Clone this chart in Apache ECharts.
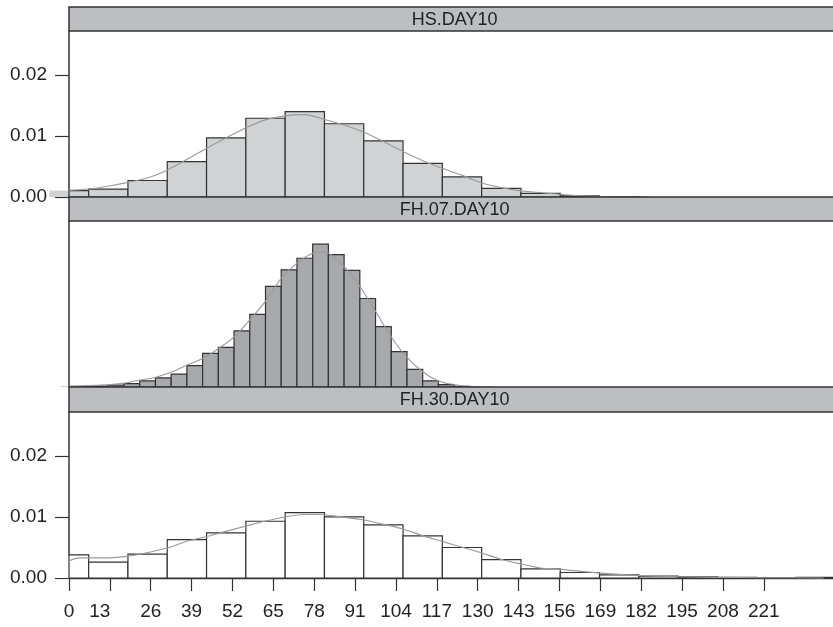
<!DOCTYPE html>
<html>
<head>
<meta charset="utf-8">
<script src="https://cdn.jsdelivr.net/npm/echarts@6/dist/echarts.min.js"></script>
<style>
  html, body { margin: 0; padding: 0; background: #fff; }
  #chart { width: 833px; height: 627px; }
</style>
</head>
<body>
<div id="chart"></div>
<script>
// panel titles
const panelNames = ['HS.DAY10', 'FH.07.DAY10', 'FH.30.DAY10']

// histogram bins (centers) and densities
const hsBinWidth = 12.5
const hsBins = [0, 12.5, 25, 37.5, 50, 62.5, 75, 87.5, 100, 112.5, 125, 137.5, 150, 162.5, 175]
const hsDens = [0.00105, 0.0013, 0.0027, 0.0058, 0.0097, 0.0129, 0.0140, 0.0120, 0.0092, 0.0055, 0.0033, 0.0014, 0.0006, 0.0002, 0.00005]

const fh07BinWidth = 5
const fh07Bins = [0, 5, 10, 15, 20, 25, 30, 35, 40, 45, 50, 55, 60, 65, 70, 75, 80, 85, 90, 95, 100, 105, 110, 115, 120, 125]
const fh07Dens = [0.0001, 0.0001, 0.00016, 0.0003, 0.00055, 0.0010, 0.0015, 0.0021, 0.0035, 0.0055, 0.0065, 0.0092, 0.0119, 0.0165, 0.0192, 0.0211, 0.0234, 0.0217, 0.0191, 0.0145, 0.0099, 0.0058, 0.0029, 0.0010, 0.0004, 0.0001]

const fh30BinWidth = 12.5
const fh30Bins = [0, 12.5, 25, 37.5, 50, 62.5, 75, 87.5, 100, 112.5, 125, 137.5, 150, 162.5, 175, 187.5, 200, 212.5, 225, 237.5]
const fh30Dens = [0.0038, 0.0026, 0.0039, 0.0063, 0.0074, 0.0093, 0.0107, 0.0100, 0.0087, 0.0069, 0.0050, 0.0030, 0.0015, 0.0009, 0.0005, 0.0003, 0.0002, 0.0001, 0.00005, 0.0001]

// density curves
const hsCurveX = [0, 6.25, 12.8, 18.7, 25.4, 31.2, 38, 43.8, 49.6, 56.2, 62.2, 68.7, 74.8, 81.3, 87.5, 93.8, 100, 106.4, 112.7, 118.7, 125.3, 131.3, 137.9, 143.8, 150.5, 162.5, 175, 185]
const hsCurveY = [0.0011, 0.0013, 0.0018, 0.0024, 0.0032, 0.0044, 0.0063, 0.0080, 0.0096, 0.0113, 0.0126, 0.0133, 0.0135, 0.0127, 0.0118, 0.0106, 0.0091, 0.0074, 0.0059, 0.0047, 0.0035, 0.0023, 0.0015, 0.0010, 0.0007, 0.0002, 0.00005, 0]

const fh07CurveX = [-2.5, 0, 10, 17, 22.2, 27.6, 32.8, 37.6, 42.6, 47.6, 52.5, 57.5, 62.4, 67.5, 72.5, 77.4, 80, 82.5, 87.4, 92.5, 97.5, 102.5, 107.4, 112.5, 117.5, 122.5, 127.2, 135]
const fh07CurveY = [0, 0.0001, 0.0003, 0.0006, 0.0011, 0.0016, 0.0025, 0.0036, 0.0047, 0.0063, 0.0082, 0.0110, 0.0140, 0.0178, 0.0203, 0.0219, 0.0221, 0.0219, 0.0198, 0.0165, 0.0124, 0.0082, 0.0049, 0.0025, 0.0010, 0.0004, 0.0001, 0]

const fh30CurveX = [0, 3.4, 12.8, 19.1, 25.4, 31.2, 38, 43.8, 49.6, 56.2, 62.2, 68.7, 74.8, 79, 85.4, 93.8, 100, 106.4, 112.7, 118.7, 125.3, 131.3, 137.9, 143.8, 150.5, 154.7, 168.8, 181.2, 193.7, 208, 221, 240]
const fh30CurveY = [0.0028, 0.0033, 0.0033, 0.0036, 0.0042, 0.0049, 0.0061, 0.0068, 0.0076, 0.0085, 0.0093, 0.0100, 0.0104, 0.0104, 0.0101, 0.0095, 0.0088, 0.0080, 0.0069, 0.0060, 0.0050, 0.0041, 0.0030, 0.0023, 0.0016, 0.0015, 0.0008, 0.0004, 0.0002, 0.0001, 0.00005, 0]

// axis ticks
const xTicks = [0, 13, 26, 39, 52, 65, 78, 91, 104, 117, 130, 143, 156, 169, 182, 195, 208, 221]
const yTicks = [0, 0.01, 0.02]

const FONT = 'Liberation Sans, Arial, Helvetica, sans-serif'
const DARK = '#333'
const X_MAX = 243
const Y_MAX = 0.0272

const gridTops = [31, 221, 412]
const gridH = 166
const headerTops = [7, 197, 387]
const headerH = [24, 24, 25]
const LEFT = 69

function histItem(binWidth, fill) {
  return function (params, api) {
    const c = api.value(0), v = api.value(1)
    const lo = c - binWidth / 2, hi = c + binWidth / 2
    const p0 = api.coord([Math.max(lo, 0), v])
    const p1 = api.coord([hi, 0])
    const children = []
    if (lo < 0) {
      // part of the first bin that falls left of the panel, drawn unclipped
      const q0 = api.coord([lo, v])
      const q1 = api.coord([0, 0])
      children.push({
        type: 'rect',
        shape: { x: q0[0], y: q0[1], width: q1[0] - q0[0], height: q1[1] - q0[1] },
        style: { fill: fill, stroke: null }
      })
    }
    children.push({
      type: 'rect',
      shape: { x: p0[0], y: p0[1], width: p1[0] - p0[0], height: p1[1] - p0[1] },
      style: { fill: fill, stroke: DARK, lineWidth: 1.2 }
    })
    return { type: 'group', children: children }
  }
}

const chart = echarts.init(document.getElementById('chart'))

const grids = gridTops.map(t => ({ left: LEFT, top: t, width: 771, height: gridH }))

const xAxes = [0, 1, 2].map(i => ({
  type: 'value',
  gridIndex: i,
  min: 0,
  max: X_MAX,
  interval: 13,
  splitLine: { show: false },
  axisLine: { show: i === 2, lineStyle: { color: DARK, width: 1.3 } },
  axisTick: {
    show: i === 2, length: 13, inside: false,
    customValues: xTicks,
    lineStyle: { color: DARK, width: 1.2 }
  },
  axisLabel: {
    show: i === 2,
    customValues: xTicks,
    margin: 24,
    fontSize: 19,
    fontFamily: FONT,
    color: '#222',
    formatter: v => v === 13 ? '{s|13}' : String(v),
    rich: { s: { fontSize: 19, fontFamily: FONT, color: '#222', padding: [0, 20, 0, 0] } }
  }
}))

const yAxes = [0, 1, 2].map(i => ({
  type: 'value',
  gridIndex: i,
  min: 0,
  max: Y_MAX,
  interval: 0.01,
  splitLine: { show: false },
  axisLine: { show: true, lineStyle: { color: DARK, width: 1.5 } },
  axisTick: {
    show: i !== 1, length: 14,
    customValues: yTicks,
    lineStyle: { color: DARK, width: 1.2 }
  },
  axisLabel: {
    show: i !== 1,
    customValues: yTicks,
    margin: 22,
    fontSize: 19,
    fontFamily: FONT,
    color: '#222',
    formatter: v => v.toFixed(2)
  }
}))

function pairs(xs, ys) { return xs.map((x, k) => [x, ys[k]]) }

const histDefs = [
  { bins: hsBins, dens: hsDens, w: hsBinWidth, fill: '#d1d2d4' },
  { bins: fh07Bins, dens: fh07Dens, w: fh07BinWidth, fill: '#a8a9ad' },
  { bins: fh30Bins, dens: fh30Dens, w: fh30BinWidth, fill: '#ffffff' }
]
const curveDefs = [
  pairs(hsCurveX, hsCurveY),
  pairs(fh07CurveX, fh07CurveY),
  pairs(fh30CurveX, fh30CurveY)
]

const series = []
histDefs.forEach((h, i) => {
  series.push({
    type: 'custom',
    xAxisIndex: i,
    yAxisIndex: i,
    clip: false,
    silent: true,
    renderItem: histItem(h.w, h.fill),
    data: pairs(h.bins, h.dens),
    z: 2
  })
  series.push({
    type: 'line',
    xAxisIndex: i,
    yAxisIndex: i,
    smooth: 0.35,
    showSymbol: false,
    clip: false,
    silent: true,
    lineStyle: { color: '#9a9a9a', width: 1.1 },
    data: curveDefs[i],
    z: 3
  })
})

const graphic = []
panelNames.forEach((name, i) => {
  graphic.push({
    type: 'rect',
    z: 10,
    shape: { x: LEFT, y: headerTops[i], width: 800, height: headerH[i] },
    style: { fill: '#bdbec2', stroke: DARK, lineWidth: 1.5 }
  })
  graphic.push({
    type: 'text',
    z: 11,
    x: 454.7,
    y: headerTops[i] + headerH[i] / 2 + 1,
    style: {
      text: name,
      fontSize: 18,
      fontFamily: FONT,
      fill: '#222',
      align: 'center',
      verticalAlign: 'middle'
    }
  })
})

chart.setOption({
  backgroundColor: '#ffffff',
  animation: false,
  grid: grids,
  xAxis: xAxes,
  yAxis: yAxes,
  series: series,
  graphic: graphic
})
</script>
</body>
</html>
